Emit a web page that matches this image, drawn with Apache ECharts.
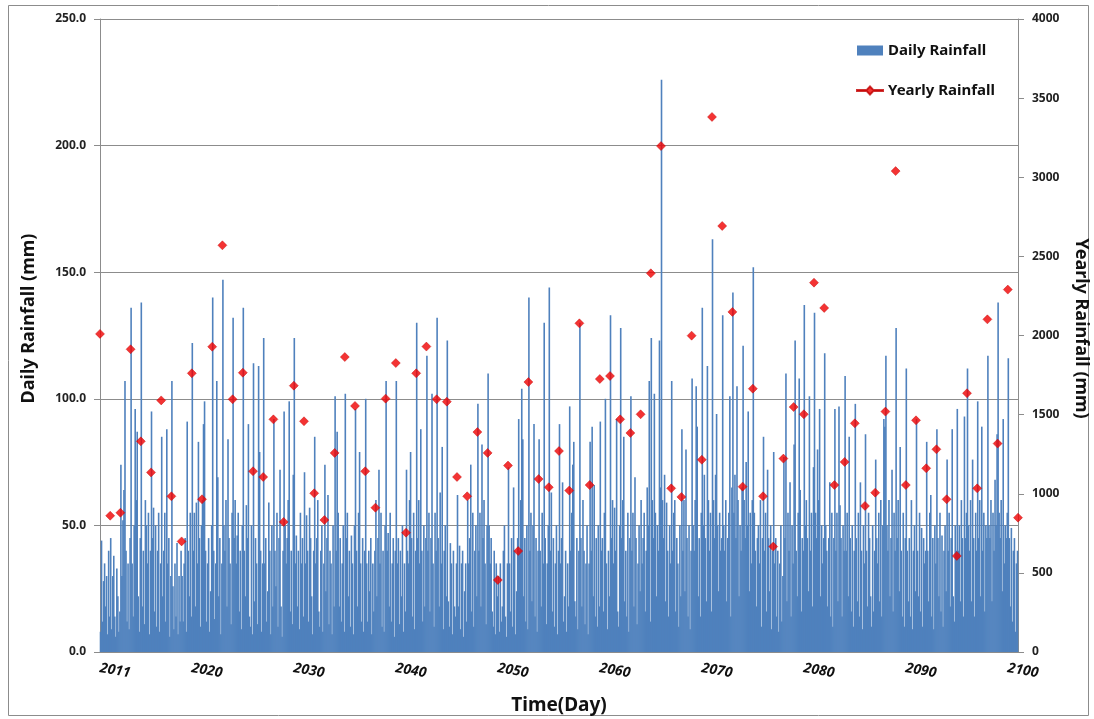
<!DOCTYPE html>
<html><head><meta charset="utf-8">
<script src="https://cdn.jsdelivr.net/npm/echarts@6/dist/echarts.min.js"></script>
<style>html,body{margin:0;padding:0;background:#fff}#c{width:1094px;height:719px}</style>
</head><body><div id="c"></div>
<script>
const START_YEAR = 2011;
const YEARS = 90;
const xTickYears = [2011, 2020, 2030, 2040, 2050, 2060, 2070, 2080, 2090, 2100];

// Yearly rainfall (mm), one marker per year boundary (91 points)
const yearlyRainfall = [
  2010, 861, 880, 1913, 1331, 1135, 1590, 984, 699, 1761, 965,
  1929, 2570, 1597, 1765, 1142, 1106, 1470, 822, 1683, 1458, 1003,
  834, 1258, 1864, 1555, 1142, 912, 1601, 1826, 754, 1761, 1930, 1597,
  1582, 1106, 984, 1390, 1258, 455, 1178, 638, 1706, 1093, 1041,
  1270, 1020, 2077, 1055, 1725, 1744, 1470, 1384, 1502, 2393, 3197,
  1034, 980, 1999, 1215, 3381, 2692, 2149, 1045, 1664, 984, 666, 1222,
  1548, 1502, 2334, 2174, 1055, 1201, 1445, 923, 1007, 1519, 3039,
  1055, 1464, 1161, 1281, 965, 607, 1635, 1034, 2102, 1317, 2290, 849
];

// Daily rainfall (mm), sampled values read per year (10 per year)
const dailyRainfall = [
  [8, 44, 12, 28, 35, 18, 30, 7, 40, 14],
  [45, 9, 30, 38, 14, 6, 33, 22, 8, 16],
  [74, 30, 52, 64, 107, 40, 12, 35, 9, 45],
  [136, 35, 14, 50, 96, 60, 87, 22, 8, 45],
  [138, 18, 40, 11, 60, 50, 35, 55, 7, 40],
  [95, 45, 57, 16, 50, 10, 40, 55, 8, 35],
  [85, 22, 40, 55, 12, 88, 35, 45, 6, 30],
  [107, 26, 9, 35, 14, 43, 7, 30, 12, 40],
  [30, 12, 35, 45, 8, 91, 40, 22, 55, 14],
  [122, 40, 55, 18, 59, 35, 83, 45, 10, 50],
  [60, 90, 99, 40, 12, 35, 45, 8, 24, 50],
  [140, 40, 13, 35, 107, 69, 22, 45, 7, 35],
  [147, 50, 40, 60, 18, 84, 45, 35, 11, 55],
  [132, 45, 60, 35, 46, 55, 16, 40, 9, 50],
  [136, 40, 22, 58, 45, 90, 14, 10, 50, 7],
  [114, 20, 45, 35, 11, 113, 79, 40, 8, 35],
  [124, 35, 45, 12, 24, 59, 40, 7, 50, 18],
  [92, 40, 26, 55, 10, 45, 72, 18, 6, 40],
  [95, 50, 35, 45, 60, 99, 16, 40, 11, 70],
  [124, 35, 46, 18, 40, 9, 55, 35, 45, 14],
  [71, 35, 54, 40, 12, 57, 45, 22, 7, 40],
  [85, 35, 45, 60, 16, 10, 40, 50, 8, 35],
  [74, 24, 45, 62, 11, 40, 35, 7, 50, 18],
  [101, 40, 87, 55, 18, 45, 12, 35, 50, 8],
  [102, 45, 55, 22, 40, 10, 46, 35, 7, 50],
  [96, 40, 18, 55, 79, 35, 12, 45, 8, 40],
  [100, 35, 12, 40, 24, 45, 7, 35, 16, 40],
  [60, 22, 45, 72, 35, 55, 10, 40, 8, 50],
  [107, 40, 47, 18, 55, 12, 35, 45, 6, 40],
  [107, 35, 45, 11, 40, 22, 50, 8, 35, 16],
  [72, 40, 35, 60, 79, 45, 14, 55, 9, 40],
  [130, 45, 60, 35, 88, 40, 12, 50, 18, 45],
  [117, 40, 55, 16, 45, 102, 35, 10, 55, 40],
  [132, 45, 18, 63, 35, 81, 9, 40, 50, 22],
  [123, 20, 10, 43, 35, 7, 40, 18, 14, 35],
  [62, 18, 42, 9, 35, 40, 6, 24, 35, 12],
  [60, 35, 45, 74, 16, 55, 10, 40, 50, 22],
  [98, 40, 55, 18, 82, 45, 60, 35, 11, 50],
  [110, 50, 35, 45, 16, 10, 40, 7, 35, 22],
  [30, 8, 35, 12, 18, 40, 50, 14, 6, 35],
  [73, 35, 16, 45, 10, 65, 40, 7, 24, 45],
  [92, 40, 60, 104, 84, 22, 45, 12, 50, 9],
  [140, 40, 55, 20, 50, 90, 14, 45, 8, 40],
  [84, 40, 18, 55, 35, 130, 45, 11, 35, 50],
  [144, 40, 63, 16, 45, 10, 35, 50, 7, 40],
  [90, 35, 45, 67, 12, 22, 40, 8, 35, 18],
  [97, 40, 55, 74, 83, 20, 14, 45, 9, 40],
  [130, 45, 18, 60, 40, 11, 35, 50, 7, 35],
  [83, 40, 89, 22, 66, 14, 45, 10, 50, 18],
  [91, 40, 45, 16, 55, 100, 35, 9, 40, 22],
  [133, 45, 60, 35, 57, 40, 92, 16, 10, 50],
  [128, 45, 60, 85, 20, 40, 14, 55, 8, 45],
  [101, 40, 55, 18, 69, 45, 11, 35, 50, 24],
  [60, 35, 45, 55, 16, 40, 65, 50, 107, 12],
  [124, 60, 45, 102, 55, 22, 50, 40, 123, 65],
  [226, 60, 45, 70, 20, 59, 40, 14, 50, 35],
  [107, 40, 55, 60, 16, 45, 35, 10, 50, 22],
  [88, 40, 60, 24, 80, 45, 14, 50, 9, 40],
  [108, 50, 40, 60, 105, 89, 22, 45, 14, 55],
  [136, 50, 70, 45, 20, 113, 60, 40, 55, 16],
  [163, 60, 45, 70, 94, 50, 24, 55, 40, 45],
  [133, 50, 40, 60, 20, 45, 55, 101, 14, 65],
  [142, 55, 70, 45, 105, 60, 22, 50, 40, 65],
  [121, 60, 45, 75, 50, 95, 24, 55, 35, 60],
  [152, 55, 40, 18, 45, 50, 35, 60, 10, 45],
  [85, 40, 55, 16, 72, 45, 24, 50, 9, 40],
  [79, 35, 45, 14, 40, 8, 35, 50, 12, 30],
  [77, 45, 110, 20, 55, 40, 67, 14, 50, 35],
  [82, 123, 40, 22, 55, 108, 64, 16, 45, 40],
  [137, 50, 60, 45, 24, 101, 40, 55, 18, 73],
  [134, 55, 45, 80, 60, 96, 22, 50, 35, 45],
  [118, 50, 40, 18, 45, 67, 14, 55, 10, 45],
  [96, 40, 55, 20, 97, 58, 45, 14, 50, 40],
  [109, 40, 55, 22, 85, 45, 16, 50, 10, 40],
  [98, 45, 20, 55, 14, 67, 40, 9, 50, 35],
  [86, 40, 18, 55, 45, 22, 10, 50, 16, 40],
  [76, 45, 35, 55, 20, 60, 14, 50, 92, 89],
  [117, 50, 40, 60, 22, 45, 72, 16, 55, 40],
  [128, 45, 60, 24, 81, 40, 14, 55, 10, 45],
  [112, 40, 20, 45, 14, 60, 9, 40, 50, 24],
  [92, 40, 22, 55, 16, 49, 10, 45, 35, 40],
  [83, 40, 20, 55, 62, 14, 45, 9, 50, 35],
  [88, 45, 22, 55, 16, 46, 10, 40, 50, 24],
  [76, 40, 55, 18, 45, 88, 22, 12, 50, 40],
  [96, 40, 50, 20, 60, 45, 14, 93, 45, 55],
  [112, 50, 40, 60, 20, 76, 45, 14, 55, 40],
  [99, 45, 60, 22, 89, 40, 55, 16, 50, 45],
  [117, 50, 45, 60, 20, 55, 40, 68, 50, 86],
  [138, 55, 45, 60, 24, 92, 35, 50, 45, 55],
  [116, 45, 18, 49, 12, 40, 45, 8, 35, 40]
];

const barData = [];
dailyRainfall.forEach((arr, k) => arr.forEach((v, j) => barData.push([k + (j + 0.5) / arr.length, v])));
const scatterData = yearlyRainfall.map((v, i) => [i, v]);

const FONT = 'Noto Sans';
const chart = echarts.init(document.getElementById('c'), null, {renderer: 'canvas'});
chart.setOption({
  animation: false,
  backgroundColor: '#fff',
  textStyle: {fontFamily: FONT},
  grid: {left: 100, right: 76, top: 19, bottom: 67, containLabel: false, outerBoundsMode: 'none'},
  legend: {
    orient: 'vertical', left: 851, top: 38, itemWidth: 26, itemHeight: 10, itemGap: 25,
    textStyle: {fontFamily: FONT, fontWeight: 'bold', fontSize: 15, color: '#111'},
    data: [
      {name: 'Daily Rainfall', icon: 'rect'},
      {name: 'Yearly Rainfall', icon: 'path://M0,4.6L9.5,4.6L13,1L16.5,4.6L26,4.6L26,5.4L16.5,5.4L13,9L9.5,5.4L0,5.4Z'}
    ]
  },
  graphic: [{
    type: 'rect', silent: true, z: -1,
    shape: {x: 8.5, y: 5.5, width: 1080, height: 710},
    style: {fill: 'none', stroke: '#8c8c8c', lineWidth: 1}
  }],
  xAxis: {
    type: 'value', min: 0, max: YEARS, interval: 1,
    name: 'Time(Day)', nameLocation: 'middle', nameGap: 44,
    nameTextStyle: {fontFamily: FONT, fontWeight: 'bold', fontSize: 19, color: '#111'},
    axisLine: {show: true, lineStyle: {color: '#8c8c8c'}},
    axisTick: {show: false},
    splitLine: {show: false},
    axisLabel: {
      rotate: -10, margin: 16, fontFamily: FONT, fontWeight: 'bold', fontStyle: 'italic', fontSize: 14, color: '#111',
      showMinLabel: true, showMaxLabel: true,
      formatter: v => { const y = START_YEAR + Math.round(v); return xTickYears.includes(y) ? String(y) : ''; }
    }
  },
  yAxis: [{
    type: 'value', min: 0, max: 250, interval: 50, position: 'left',
    name: 'Daily Rainfall (mm)', nameLocation: 'middle', nameGap: 62,
    nameTextStyle: {fontFamily: FONT, fontWeight: 'bold', fontSize: 18, color: '#111', padding: [0, 0, 0, 34]},
    axisLine: {show: true, lineStyle: {color: '#8c8c8c'}},
    axisTick: {show: true, length: 6, lineStyle: {color: '#8c8c8c'}},
    splitLine: {show: true, lineStyle: {color: '#8c8c8c', width: 1}},
    axisLabel: {margin: 14, fontFamily: FONT, fontWeight: 'bold', fontSize: 12, color: '#222', formatter: v => v.toFixed(1)}
  }, {
    type: 'value', min: 0, max: 4000, interval: 500, position: 'right',
    name: 'Yearly Rainfall (mm)', nameLocation: 'middle', nameGap: 54, nameRotate: -90,
    nameTextStyle: {fontFamily: FONT, fontWeight: 'bold', fontSize: 18, color: '#111', padding: [0, 14, 0, 0]},
    axisLine: {show: true, lineStyle: {color: '#8c8c8c'}},
    axisTick: {show: true, length: 6, lineStyle: {color: '#8c8c8c'}},
    splitLine: {show: false},
    axisLabel: {margin: 14, fontFamily: FONT, fontWeight: 'bold', fontSize: 12, color: '#222', formatter: v => String(v)}
  }],
  series: [{
    name: 'Daily Rainfall', type: 'bar', xAxisIndex: 0, yAxisIndex: 0,
    barWidth: 1.6, data: barData, itemStyle: {color: '#4F81BD'}, z: 2
  }, {
    name: 'Yearly Rainfall', type: 'scatter', xAxisIndex: 0, yAxisIndex: 1,
    symbol: 'diamond', symbolSize: 9, data: scatterData,
    itemStyle: {color: '#F00000', borderColor: '#C00000', borderWidth: 0.5}, z: 5
  }]
});
</script></body></html>
